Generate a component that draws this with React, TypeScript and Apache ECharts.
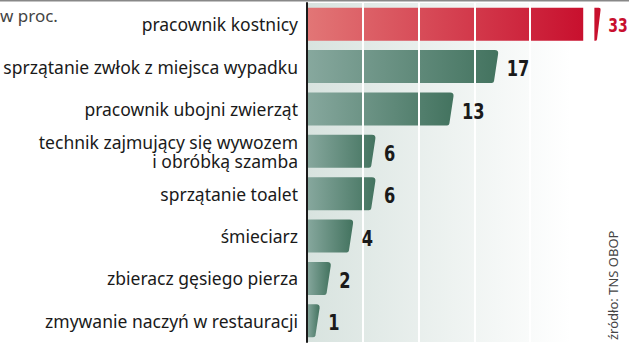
import React, { useEffect, useRef } from "react";
import * as echarts from "echarts";

const categories = [
  "pracownik kostnicy",
  "sprzątanie zwłok z miejsca wypadku",
  "pracownik ubojni zwierząt",
  "technik zajmujący się wywozem\ni obróbką szamba",
  "sprzątanie toalet",
  "śmieciarz",
  "zbieracz gęsiego pierza",
  "zmywanie naczyń w restauracji",
];
const values = [33, 17, 13, 6, 6, 4, 2, 1];
const unitLabel = "w proc.";
const sourceLabel = "źródło: TNS OBOP";
const axisBreak = { start: 24.75, end: 32.6, gap: 1 };

const RED = "#c8102e";
const BAR_RATIO = 0.78;
const LABEL_FONT = '"DejaVu Sans Condensed", "DejaVu Sans", sans-serif';

function barPath(x0: number, x1: number, y0: number, y1: number, slant: number, r: number, r2: number) {
  const h = y1 - y0;
  const dx = slant / h;
  return (
    `M${x0},${y0} L${x1 - r},${y0} Q${x1},${y0} ${x1 - dx * r},${y0 + r} ` +
    `L${x1 - slant + dx * r2},${y1 - r2} Q${x1 - slant},${y1} ${x1 - slant - r2},${y1} ` +
    `L${x0},${y1} Z`
  );
}

export default function App() {
  const ref = useRef<HTMLDivElement>(null);
  useEffect(() => {
    if (!ref.current) return;
    const chart = echarts.init(ref.current, undefined, { renderer: "svg" });
    const greenGrad = () =>
      new echarts.graphic.LinearGradient(0, 0, 1, 0, [
        { offset: 0, color: "#87a89e" },
        { offset: 1, color: "#43735f" },
      ]);
    const redGrad = () =>
      new echarts.graphic.LinearGradient(0, 0, 1, 0, [
        { offset: 0, color: "#e27676" },
        { offset: 1, color: RED },
      ]);
    const seriesData = values.map((v, i) => [v, i]);

    chart.setOption({
      animation: false,
      grid: {
        left: 307,
        right: 19,
        top: 3,
        bottom: 7,
        show: true,
        borderWidth: 0,
        backgroundColor: new echarts.graphic.LinearGradient(0, 0, 1, 0, [
          { offset: 0, color: "#d8e3df" },
          { offset: 0.87, color: "#ffffff" },
          { offset: 1, color: "#ffffff" },
        ]),
      },
      xAxis: {
        type: "value",
        min: 0,
        max: 34,
        interval: 5,
        breaks: [axisBreak],
        breakArea: { show: false },
        axisLabel: { show: false },
        axisLine: { show: false },
        axisTick: { show: false },
        splitLine: {
          show: true,
          showMinLine: false,
          showMaxLine: false,
          lineStyle: { color: "#ffffff", width: 2 },
        },
        z: 10,
      },
      yAxis: {
        type: "category",
        data: categories,
        inverse: true,
        axisLine: { show: true, lineStyle: { color: "#1a1a1a", width: 2 } },
        axisTick: { show: false },
        axisLabel: {
          fontSize: 17.5,
          color: "#1a1a1a",
          fontFamily: "Noto Sans",
          margin: 9,
          lineHeight: 18.5,
        },
        z: 11,
      },
      graphic: [
        { type: "rect", shape: { x: 0, y: 0, width: 629, height: 1.5 }, style: { fill: "#888" } },
        {
          type: "text",
          x: 0,
          y: 15,
          style: {
            text: unitLabel,
            fontSize: 17,
            fill: "#444",
            fontFamily: "Noto Sans",
            verticalAlign: "middle",
          },
        },
        {
          type: "text",
          x: 613,
          y: 340,
          rotation: Math.PI / 2,
          style: {
            text: sourceLabel,
            fontSize: 13,
            fill: "#444",
            fontFamily: "Noto Sans",
            align: "left",
            verticalAlign: "middle",
          },
        },
      ],
      series: [
        {
          type: "custom",
          encode: { x: 0, y: 1 },
          data: seriesData,
          z: 2,
          renderItem: (params: any, api: any) => {
            const v = api.value(0) as number;
            const idx = api.value(1) as number;
            const p0 = api.coord([0, idx]);
            const band = (api.size([0, 1]) as number[])[1];
            const h = band * BAR_RATIO;
            const y0 = p0[1] - h / 2;
            const y1 = p0[1] + h / 2;
            const x0 = p0[0];
            const children: any[] = [];
            const xe = api.coord([v, idx])[0];
            if (v > axisBreak.end) {
              const xs = api.coord([axisBreak.start, idx])[0];
              const xb = api.coord([axisBreak.end, idx])[0];
              children.push({
                type: "rect",
                shape: { x: x0, y: y0, width: xs - x0, height: h },
                style: { fill: redGrad() },
              });
              children.push({
                type: "path",
                shape: { pathData: barPath(xb, xe + 2, y0, y1, 4, 2, 1.5) },
                style: { fill: RED },
              });
            } else {
              children.push({
                type: "path",
                shape: { pathData: barPath(x0, xe + 2, y0, y1, 5, 4, 2) },
                style: { fill: greenGrad() },
              });
            }
            return { type: "group", children };
          },
        },
        {
          type: "custom",
          encode: { x: 0, y: 1 },
          data: seriesData,
          z: 20,
          renderItem: (params: any, api: any) => {
            const v = api.value(0) as number;
            const idx = api.value(1) as number;
            const p = api.coord([v, idx]);
            const broken = v > axisBreak.end;
            return {
              type: "text",
              x: p[0] + (broken ? 9.5 : 10),
              y: p[1] + (broken ? 1 : 2),
              scaleX: 0.82,
              style: {
                text: String(v),
                fill: broken ? RED : "#1a1a1a",
                fontSize: broken ? 19 : 22,
                fontWeight: "bold",
                fontFamily: LABEL_FONT,
                align: "left",
                verticalAlign: "middle",
              },
            };
          },
        },
      ],
    });
    return () => chart.dispose();
  }, []);
  return (
    <div
      ref={ref}
      style={{ position: "absolute", left: 0, top: 0, width: 629, height: 349 }}
    />
  );
}
